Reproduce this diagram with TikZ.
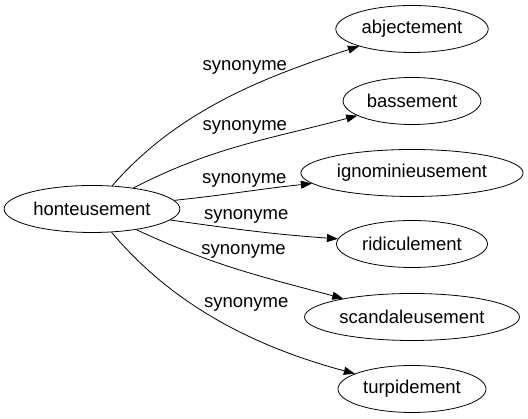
\documentclass[tikz,border=0pt]{standalone}
\usepackage{fontspec}
\setmainfont{Liberation Sans}
\usetikzlibrary{shapes.geometric,arrows.meta}

\begin{document}
\begin{tikzpicture}[x=1pt,y=1pt,font=\fontsize{18.5}{22}\selectfont,
  mot/.style={draw,ellipse,line width=.8pt,inner xsep=3.5pt,inner ysep=0pt,minimum height=47pt},
  syn/.style={-{Triangle[length=11pt,width=8pt]},line width=.8pt}]
  \useasboundingbox (0,0) rectangle (528,419);

  \node[mot] (hont) at (92,210) {honteusement};
  \node[mot] (abj) at (412,390) {abjectement};
  \node[mot] (bas) at (412,318) {bassement};
  \node[mot] (ign) at (412,246) {ignominieusement};
  \node[mot] (rid) at (412,175) {ridiculement};
  \node[mot] (sca) at (412,102) {scandaleusement};
  \node[mot] (tur) at (412,30) {turpidement};

  \draw[syn] (hont) to[out=49,in=198,looseness=.9] node[pos=.58,above=11pt] {synonyme} (abj);
  \draw[syn] (hont) to[out=27,in=195] node[pos=.51,above=6pt] {synonyme} (bas);
  \draw[syn] (hont) to[out=6,in=186] node[pos=.51,above=1pt] {synonyme} (ign);
  \draw[syn] (hont) to[out=-8,in=176] node[pos=.45,above=3pt] {synonyme} (rid);
  \draw[syn] (hont) to[out=-25,in=165] node[pos=.53,above=9pt] {synonyme} (sca);
  \draw[syn] (hont) to[out=-50,in=165,looseness=.9] node[pos=.6,above=20pt] {synonyme} (tur);
\end{tikzpicture}
\end{document}
